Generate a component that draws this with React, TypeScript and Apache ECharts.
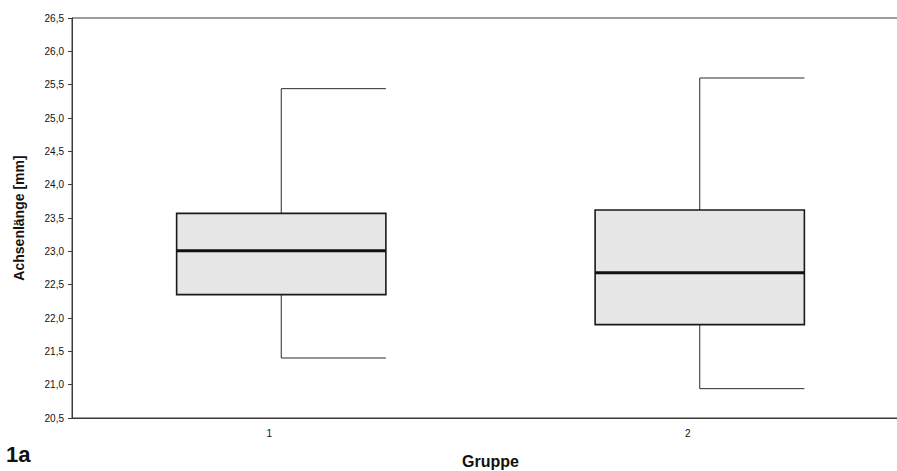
import React, { useEffect, useRef } from "react";
import * as echarts from "echarts";

const categories = ["1", "2"];
// [low whisker, Q1, median, Q3, high whisker]
const lowWhisker = [21.4, 20.94];
const q1 = [22.35, 21.9];
const median = [23.01, 22.68];
const q3 = [23.57, 23.62];
const highWhisker = [25.44, 25.6];
const yTicks = { min: 20.5, max: 26.5, interval: 0.5 };

export default function App() {
  const ref = useRef<HTMLDivElement>(null);
  useEffect(() => {
    if (!ref.current) return;
    const chart = echarts.init(ref.current, null, { renderer: "svg" });
    const data = categories.map((_, i) => [
      i,
      lowWhisker[i],
      q1[i],
      median[i],
      q3[i],
      highWhisker[i],
    ]);
    const font = "'Liberation Sans', Arial, sans-serif";
    chart.setOption({
      animation: false,
      backgroundColor: "#ffffff",
      grid: {
        left: 72,
        right: -12,
        top: 18,
        bottom: 53,
        outerBoundsMode: "none",
        containLabel: false,
        show: true,
        borderColor: "#3a3a3a",
        borderWidth: 1,
      },
      xAxis: {
        type: "category",
        data: categories,
        boundaryGap: true,
        name: "Gruppe",
        nameLocation: "middle",
        nameGap: 35,
        nameTextStyle: {
          fontFamily: font,
          fontWeight: "bold",
          fontSize: 16,
          color: "#111",
        },
        axisLine: { show: true, lineStyle: { color: "#3a3a3a", width: 1 } },
        axisTick: { show: false },
        axisLabel: {
          fontFamily: font,
          fontSize: 10,
          color: "#111",
          margin: 10,
          padding: [0, 24, 0, 0],
        },
        splitLine: { show: false },
      },
      yAxis: {
        type: "value",
        min: yTicks.min,
        max: yTicks.max,
        interval: yTicks.interval,
        name: "Achsenlänge [mm]",
        nameLocation: "middle",
        nameGap: 46,
        nameRotate: 90,
        nameTextStyle: {
          fontFamily: font,
          fontWeight: "bold",
          fontSize: 14,
          color: "#111",
        },
        axisLine: { show: true, lineStyle: { color: "#3a3a3a", width: 1 } },
        axisTick: { show: true, length: 4, lineStyle: { color: "#3a3a3a" } },
        axisLabel: {
          fontFamily: font,
          fontSize: 10,
          color: "#111",
          margin: 8,
          formatter: (v: number) => v.toFixed(1).replace(".", ","),
        },
        splitLine: { show: false },
      },
      graphic: [
        {
          type: "text",
          left: 6,
          top: 443,
          style: {
            text: "1a",
            fontFamily: font,
            fontWeight: "bold",
            fontSize: 22,
            fill: "#111",
          },
        },
      ],
      series: [
        {
          type: "custom",
          data,
          encode: { x: 0, y: [1, 2, 3, 4, 5] },
          renderItem: (params: any, api: any) => {
            const xi = api.value(0);
            const band = api.size([1, 0])[0];
            const bw = band * 0.5;
            const pLow = api.coord([xi, api.value(1)]);
            const pQ1 = api.coord([xi, api.value(2)]);
            const pMed = api.coord([xi, api.value(3)]);
            const pQ3 = api.coord([xi, api.value(4)]);
            const pHigh = api.coord([xi, api.value(5)]);
            const cx = pMed[0];
            const left = cx - bw / 2;
            const right = cx + bw / 2;
            const lineStyle = { stroke: "#2a2a2a", lineWidth: 1 };
            return {
              type: "group",
              children: [
                {
                  type: "line",
                  shape: { x1: cx, y1: pHigh[1], x2: cx, y2: pQ3[1] },
                  style: lineStyle,
                },
                {
                  type: "line",
                  shape: { x1: cx, y1: pQ1[1], x2: cx, y2: pLow[1] },
                  style: lineStyle,
                },
                {
                  type: "line",
                  shape: { x1: cx, y1: pHigh[1], x2: right, y2: pHigh[1] },
                  style: lineStyle,
                },
                {
                  type: "line",
                  shape: { x1: cx, y1: pLow[1], x2: right, y2: pLow[1] },
                  style: lineStyle,
                },
                {
                  type: "rect",
                  shape: {
                    x: left,
                    y: pQ3[1],
                    width: bw,
                    height: pQ1[1] - pQ3[1],
                  },
                  style: { fill: "#e6e6e6", stroke: "#1a1a1a", lineWidth: 1.6 },
                },
                {
                  type: "line",
                  shape: { x1: left, y1: pMed[1], x2: right, y2: pMed[1] },
                  style: { stroke: "#111", lineWidth: 3 },
                },
              ],
            };
          },
        },
      ],
    });
    return () => chart.dispose();
  }, []);
  return (
    <div
      ref={ref}
      style={{ position: "fixed", left: 0, top: 0, width: 897, height: 471 }}
    />
  );
}
